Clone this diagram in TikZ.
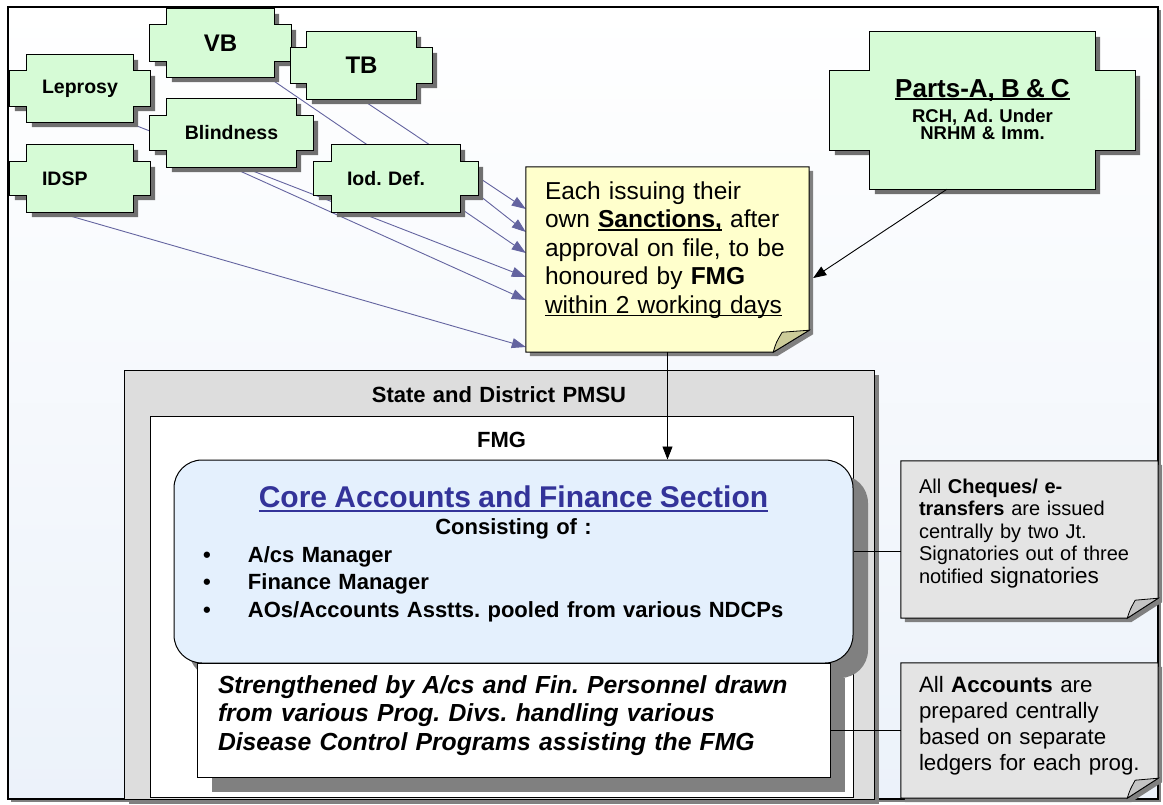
\documentclass[tikz,border=0pt]{standalone}
\usepackage{fontspec}
\setmainfont{Liberation Sans}
\usepackage{tikz}
\usetikzlibrary{arrows.meta,calc,shadows}
\setlength{\parindent}{0pt}
\frenchspacing
\definecolor{progfill}{RGB}{214,251,214}
\definecolor{progshade}{RGB}{112,112,112}
\definecolor{boxshade}{RGB}{128,128,128}
\definecolor{linkblue}{RGB}{100,100,160}
\definecolor{noteyellow}{RGB}{255,255,204}
\definecolor{notefoldc}{RGB}{204,204,153}
\definecolor{pmsugray}{RGB}{221,221,221}
\definecolor{corefill}{RGB}{228,240,253}
\definecolor{titleblue}{RGB}{51,51,153}
\definecolor{callgray}{RGB}{228,228,228}
\definecolor{callfoldc}{RGB}{196,196,196}
\definecolor{bgblue}{RGB}{236,242,250}
\pgfdeclarelayer{back}
\pgfsetlayers{back,main}
\tikzset{every node/.append style={inner sep=0pt}}
\tikzset{prog/.style={font=\bfseries\fontsize{19.5}{22}\selectfont}}
\tikzset{progshape/.style={draw=black, line width=1pt, fill=progfill,
    drop shadow={shadow xshift=5pt, shadow yshift=-5pt, opacity=1, fill=progshade}}}
\tikzset{progline/.style={draw=linkblue, line width=0.9pt, -{Triangle[length=14pt,width=10pt]}}}
\tikzset{blackarrow/.style={draw=black, line width=0.9pt, -{Triangle[length=13pt,width=10pt]}}}
\tikzset{noteshape/.style={draw=black, line width=1pt, fill=noteyellow,
    drop shadow={shadow xshift=4pt, shadow yshift=-4pt, opacity=1, fill=boxshade}}}
\tikzset{callshape/.style={draw=black, line width=1pt, fill=callgray,
    drop shadow={shadow xshift=4pt, shadow yshift=-4pt, opacity=1, fill=boxshade}}}
\tikzset{fold/.style={draw=black, line width=0.8pt, fill=#1}}
\tikzset{bigshadow/.style={drop shadow={shadow xshift=15pt, shadow yshift=-15pt, opacity=1, fill=boxshade}}}
\tikzset{textblock/.style={align=left, inner ysep=0pt}}
\newcommand{\undertext}[2][3pt]{\leavevmode\setbox0\hbox{#2}\rlap{\rule[-#1]{\wd0}{0.06em}}\box0}
\newcommand{\coreitem}{\hspace*{29pt}\makebox[45pt][l]{\textbullet}}
\newcommand{\progcross}[3]{%
  \draw[progshape] ($(#1.north west)+(#2,0)$) -- ($(#1.north east)+(-#2,0)$)
    -- ($(#1.north east)+(-#2,#3)$) -- ($(#1.north east)+(0,#3)$)
    -- ($(#1.south east)+(0,-#3)$) -- ($(#1.south east)+(-#2,-#3)$)
    -- ($(#1.south east)+(-#2,0)$) -- ($(#1.south west)+(#2,0)$)
    -- ($(#1.south west)+(#2,-#3)$) -- ($(#1.south west)+(0,-#3)$)
    -- ($(#1.north west)+(0,#3)$) -- ($(#1.north west)+(#2,#3)$) -- cycle;}

\begin{document}
\begin{tikzpicture}[x=1pt,y=-1pt]
\useasboundingbox (0,0) rectangle (1163,804);

\node[prog, minimum width=140pt, minimum height=67pt] (lep) at (80,88.5) {Leprosy};
\node[prog, font=\bfseries\fontsize{24}{26}\selectfont, minimum width=141pt, minimum height=68pt] (vb) at (220.5,43) {VB};
\node[prog, font=\bfseries\fontsize{24}{26}\selectfont, minimum width=141pt, minimum height=67pt] (tb) at (361.5,65.5) {TB};
\node[prog, minimum width=163pt, minimum height=68pt] (blind) at (231.5,133) {Blindness};
\node[prog, minimum width=140pt, minimum height=67pt, text width=76pt, align=left] (idsp) at (80,178.5) {IDSP};
\node[prog, minimum width=164pt, minimum height=67pt, text width=98pt, align=left] (iod) at (396,178.5) {Iod. Def.};
\node[prog, font=\bfseries\fontsize{18.5}{17}\selectfont, text width=305pt, align=center,
  text height=65pt, text depth=92pt] (parts) at (982.5,110.5)
  {{\fontsize{26}{24}\selectfont\undertext{Parts-A, B \& C}}\\[7pt]RCH, Ad. Under\\NRHM \& Imm.};

\node[textblock, font=\fontsize{24.5}{28.5}\selectfont, text width=245pt, inner xsep=19pt,
  text height=32pt, text depth=153pt] (note) at (667.5,259.5)
  {Each issuing their\\own \textbf{\undertext{Sanctions,}} after\\approval on file, to be\\honoured by \textbf{FMG}\\\undertext{within 2 working days}};

\node[draw=black, line width=1pt, fill=pmsugray, align=center, text width=750pt, inner ysep=0pt,
  font=\bfseries\fontsize{22}{26}\selectfont, text height=32pt, text depth=397pt,
  drop shadow={shadow xshift=5pt, shadow yshift=-5pt, opacity=1, fill=boxshade}] (pmsu) at (499,584.5) {State and District PMSU};
\node[draw=black, line width=1pt, fill=white, align=center, text width=703pt, inner ysep=0pt,
  font=\bfseries\fontsize{22}{26}\selectfont, text height=31pt, text depth=350pt] (fmg) at (501.5,606.5) {FMG};
\node[draw=black, line width=1pt, fill=corefill, rounded corners=28pt, bigshadow, textblock,
  text width=679pt, font=\bfseries\fontsize{22}{27.5}\selectfont, text height=47pt, text depth=156pt] (core) at (513.5,561.5)
  {{\centering{\fontsize{30}{27.5}\selectfont\color{titleblue}\undertext[5pt]{Core Accounts and Finance Section}}\\Consisting of :\par}
   \coreitem A/cs Manager\\\coreitem Finance Manager\\\coreitem AOs/Accounts Asstts. pooled from various NDCPs};
\node[draw=black, line width=1pt, fill=white, bigshadow, textblock, text width=591pt, inner xsep=21pt,
  font=\bfseries\itshape\fontsize{24.7}{28.5}\selectfont, text height=30pt, text depth=84pt] (str) at (513.5,720)
  {Strengthened by A/cs and Fin. Personnel drawn\\from various Prog. Divs. handling various\\Disease Control Programs assisting the FMG};

\node[textblock, font=\fontsize{20}{22.5}\selectfont, text width=221pt, inner xsep=18pt,
  text height=32pt, text depth=125pt] (call1) at (1029.5,539.5)
  {All \textbf{Cheques/ e-}\\\textbf{transfers} are issued\\centrally by two Jt.\\Signatories out of three\\notified {\fontsize{22.5}{22.5}\selectfont signatories}};
\node[textblock, font=\fontsize{22.3}{26}\selectfont, text width=221pt, inner xsep=18pt,
  text height=29pt, text depth=106pt] (call2) at (1029.5,730.5)
  {All \textbf{Accounts} are\\prepared centrally\\based on separate\\ledgers for each prog.};

\begin{pgfonlayer}{back}
\fill[boxshade] (11,10) rectangle (1161,802);
\draw[line width=1.5pt, top color=white, bottom color=bgblue] (8,7) rectangle (1158,799);
\draw[progline] ([xshift=-23pt]lep.south east) -- ([yshift=-17.5pt]note.west);
\draw[progline] ([xshift=-23pt]vb.south east) -- ([yshift=6.5pt]note.west);
\draw[progline] (tb.south) -- ([yshift=50.5pt]note.west);
\draw[progline] (blind.south) -- ([yshift=-40.5pt]note.west);
\draw[progline] ([xshift=-23pt]idsp.south) -- ([yshift=-87.5pt]note.west);
\draw[progline] ([yshift=-16pt]iod.east) -- ([yshift=27.5pt]note.west);
\progcross{lep}{17}{16}
\progcross{vb}{17}{16}
\progcross{tb}{16}{16}
\progcross{blind}{17}{17}
\progcross{idsp}{17}{17}
\progcross{iod}{18}{17}
\progcross{parts}{40}{39}
\draw[noteshape] (note.north west) -- (note.north east) -- ([yshift=22pt]note.south east)
  -- ([xshift=-36pt]note.south east) -- (note.south west) -- cycle;
\draw[fold=notefoldc] ([xshift=-36pt]note.south east) .. controls ([xshift=-33pt,yshift=10pt]note.south east)
  .. ([xshift=-27pt,yshift=20pt]note.south east) -- ([yshift=22pt]note.south east) -- cycle;
\draw[callshape] (call1.north west) -- (call1.north east) -- ([yshift=20pt]call1.south east)
  -- ([xshift=-31pt]call1.south east) -- (call1.south west) -- cycle;
\draw[fold=callfoldc] ([xshift=-31pt]call1.south east) .. controls ([xshift=-28pt,yshift=9pt]call1.south east)
  .. ([xshift=-23pt,yshift=18pt]call1.south east) -- ([yshift=20pt]call1.south east) -- cycle;
\draw[callshape] (call2.north west) -- (call2.north east) -- ([yshift=20pt]call2.south east)
  -- ([xshift=-31pt]call2.south east) -- (call2.south west) -- cycle;
\draw[fold=callfoldc] ([xshift=-31pt]call2.south east) .. controls ([xshift=-28pt,yshift=9pt]call2.south east)
  .. ([xshift=-23pt,yshift=18pt]call2.south east) -- ([yshift=20pt]call2.south east) -- cycle;
\end{pgfonlayer}

\draw[blackarrow] ([xshift=-35.5pt]parts.south) -- ([xshift=4pt,yshift=-18.5pt]note.east);
\draw[blackarrow] (note.south) -- (note.south |- core.north);
\draw[line width=0.9pt] ([yshift=10.5pt]core.east) -- ([yshift=-11.5pt]call1.west);
\draw[line width=0.9pt] (str.east |- call2.west) -- (call2.west);
\end{tikzpicture}
\end{document}
